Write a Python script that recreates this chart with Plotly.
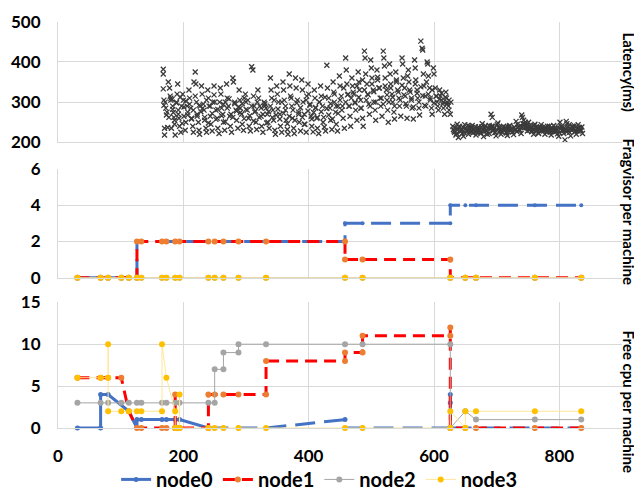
import plotly.graph_objects as go
from plotly.subplots import make_subplots

# ---------------- Latency scatter (top panel) ----------------
lat_x1 = [
    168, 168, 168, 169, 169, 170, 170, 172, 173, 175, 176,
    178, 179, 180, 181, 182, 183, 184, 185, 186, 187,
    189, 190, 191, 192, 193, 194, 196, 197,
    199, 200, 201, 203, 204, 206, 207,
    209, 210, 212, 213, 215, 216, 217,
    219, 220, 221, 222, 224, 225, 226, 227,
    229, 230, 232, 233, 234, 236, 237,
    239, 240, 241, 243, 244, 246, 247,
    249, 250, 252, 254, 255, 257,
    259, 260, 261, 263, 264, 266, 267,
    269, 270, 272, 274, 275, 277,
    279, 280, 282, 284, 285, 287,
    289, 290, 291, 293, 294, 296, 297,
    299, 300, 302, 304, 305, 307,
    309, 311, 312, 313, 314, 316, 317,
    319, 320, 322, 324, 325, 327,
    329, 330, 332, 334, 335, 337,
    339, 340, 341, 343, 344, 346, 347,
    349, 350, 352, 354, 355, 357,
    359, 360, 361, 363, 364, 366, 367,
    369, 370, 371, 373, 374, 376, 377,
    379, 380, 382, 384, 385, 387,
    389, 390, 391, 393, 394, 396, 397,
    399, 400, 402, 404, 405, 407,
    409, 410, 411, 413, 414, 416, 417,
    419, 420, 422, 424, 425, 427,
    429, 430, 432, 434, 435, 437,
    439, 440, 441, 443, 444, 446, 447,
    449, 450, 452, 454, 455, 457,
    459, 460, 461, 463, 464, 466, 467,
    469, 470, 472, 474, 475, 477,
    479, 480, 481, 483, 484, 486, 487,
    489, 490, 491, 493, 494, 496, 497,
    499, 500, 501, 503, 504, 506, 507,
    509, 510, 512, 514, 515, 517,
    519, 520, 521, 522, 524, 525, 526, 527,
    529, 530, 531, 533, 534, 536, 537,
    539, 540, 542, 544, 545, 547,
    549, 550, 551, 553, 554, 556, 557,
    559, 560, 562, 564, 565, 567,
    569, 570, 571, 573, 574, 576, 577,
    579, 581, 582, 583, 584, 586, 587,
    589, 590, 591, 593, 594, 596, 597,
    599, 600, 602, 604, 605, 607,
    609, 610, 612, 614, 615, 617,
    619, 620, 621, 623, 624, 626, 627,
    630, 631, 633, 635, 637, 639,
    641, 643, 645, 647, 649,
    651, 653, 655, 657, 659,
    661, 663, 665, 667, 669,
    671, 673, 675, 677, 679,
    681, 683, 685, 688,
    691, 693, 694, 695, 697, 699,
    701, 703, 705, 707, 709,
    711, 713, 715, 717, 719,
    721, 723, 725, 727, 729,
    731, 733, 735, 737, 739,
    740, 741, 743, 745, 747, 749,
    751, 753, 755, 757, 759,
    761, 763, 765, 767, 769,
    771, 773, 775, 777, 779,
    781, 783, 785, 787, 789,
    791, 793, 795, 797, 799,
    801, 803, 805, 807, 809,
    811, 812, 814, 816, 818,
    821, 823, 825, 827,
    830, 832, 834, 837,
]
lat_y1 = [
    382, 370, 333, 305, 292, 235, 218, 285, 268, 237, 350,
    335, 315, 305, 235, 307, 290, 274, 262, 245, 218,
    300, 320, 345, 280, 260, 240, 225, 290,
    320, 305, 265, 230, 250, 290, 275,
    330, 310, 285, 260, 240, 225, 350,
    375, 345, 300, 270, 250, 230, 220, 290,
    340, 320, 295, 280, 255, 235, 225,
    330, 310, 290, 265, 245, 228, 300,
    340, 300, 280, 260, 235, 222,
    335, 320, 285, 270, 250, 230, 300,
    345, 310, 290, 265, 240, 225,
    360, 350, 300, 280, 255, 235,
    330, 305, 285, 270, 245, 230, 310,
    320, 300, 280, 260, 240, 228,
    388, 380, 315, 290, 275, 250, 232,
    330, 310, 290, 265, 240, 225,
    300, 290, 285, 270, 250, 235,
    360, 330, 310, 280, 255, 230, 220,
    340, 320, 300, 270, 240, 225,
    350, 330, 305, 280, 255, 232, 220,
    370, 340, 315, 290, 260, 235, 222,
    360, 335, 305, 275, 250, 228,
    355, 330, 300, 270, 245, 225, 315,
    345, 320, 295, 265, 240, 226,
    330, 310, 285, 260, 235, 222, 300,
    340, 315, 290, 262, 238, 228,
    392, 335, 310, 285, 255, 232,
    350, 325, 300, 275, 245, 228, 290,
    365, 340, 315, 290, 260, 235,
    410, 380, 345, 320, 290, 265, 240,
    360, 340, 320, 300, 280, 255,
    375, 350, 330, 305, 285, 260, 240,
    427, 410, 370, 345, 320, 295, 270,
    405, 385, 360, 330, 300, 280, 255,
    380, 355, 335, 310, 290, 265,
    427, 410, 390, 360, 330, 305, 280, 250,
    395, 370, 345, 320, 300, 275, 258,
    375, 355, 330, 310, 290, 265,
    410, 395, 360, 335, 315, 290, 260,
    380, 350, 325, 305, 285, 258,
    405, 385, 355, 330, 310, 285, 268,
    452, 434, 430, 370, 340, 315, 290,
    400, 395, 365, 335, 310, 285, 270,
    385, 370, 335, 315, 300, 280,
    330, 315, 305, 295, 285, 270,
    325, 310, 300, 290, 280, 270, 300,
    240, 232, 225, 218, 245, 212,
    238, 230, 222, 215, 244,
    235, 228, 220, 240, 226,
    242, 234, 226, 218, 230,
    238, 230, 222, 246, 214,
    236, 228, 220, 242,
    270, 262, 240, 232, 224, 216,
    244, 236, 228, 220, 232,
    240, 232, 225, 217, 236,
    242, 234, 226, 219, 230,
    252, 245, 238, 230, 222,
    268, 262, 255, 245, 236, 228,
    250, 242, 235, 228, 220,
    245, 238, 230, 222, 234,
    244, 236, 228, 220, 232,
    240, 233, 226, 218, 230,
    242, 235, 228, 221, 215,
    250, 238, 230, 222, 206,
    252, 246, 232, 225, 216,
    240, 233, 226, 220,
    244, 236, 228, 222,
]
lat_x2 = [
    171, 174, 177, 180, 183, 186, 189, 192, 195, 198, 201, 204, 207, 210, 213, 216, 219, 222, 225, 228,
    231, 234, 237, 240, 243, 246, 249, 252, 255, 258, 261, 264, 267, 270, 273, 276, 279, 282, 285, 288,
    291, 294, 297, 300, 303, 306, 309, 312, 315, 318, 321, 324, 327, 330, 333, 336, 339, 342, 345, 348,
    351, 354, 357, 360, 363, 366, 369, 372, 375, 378, 381, 384, 387, 390, 393, 396, 399, 402, 405, 408,
    411, 414, 417, 420, 423, 426, 429, 432, 435, 438, 441, 444, 447, 450, 453, 456, 459, 462, 465, 468,
    471, 474, 477, 480, 483, 486, 489, 492, 495, 498, 501, 504, 507, 510, 513, 516, 519, 522, 525, 528,
    531, 534, 537, 540, 543, 546, 549, 552, 555, 558, 561, 564, 567, 570, 573, 576, 579, 582, 585, 588,
    591, 594, 597, 600, 603, 606, 609, 612, 615, 618, 621, 624,
]
lat_y2 = [
    300, 275, 262, 310, 282, 255, 298, 270, 312, 247, 288, 303, 268, 295, 258, 280, 315, 265, 292, 276,
    285, 262, 305, 248, 290, 272, 318, 257, 282, 300, 266, 294, 251, 285, 308, 270, 262, 296, 278, 288,
    274, 296, 259, 282, 305, 266, 290, 253, 278, 300, 262, 285, 270, 296, 248, 276, 290, 262, 305, 268,
    283, 258, 300, 272, 290, 246, 265, 310, 280, 255, 298, 270, 286, 262, 245, 305, 278, 292, 258, 274,
    287, 262, 300, 276, 250, 312, 284, 268, 296, 258, 320, 290, 272, 305, 280, 335, 300, 318, 290, 310,
    325, 298, 340, 312, 285, 355, 330, 305, 318, 290, 345, 326, 300, 362, 335, 310, 295, 340, 318, 300,
    335, 312, 290, 350, 325, 305, 342, 318, 296, 365, 330, 310, 288, 345, 322, 300, 338, 316, 292, 350,
    320, 305, 330, 298, 315, 290, 308, 322, 300, 312, 295, 305,
]
lat_x3 = [
    632, 634, 636, 638, 640, 642, 644, 646, 648, 650, 652, 654, 656, 658, 660, 662, 664, 666, 668, 670,
    672, 674, 676, 678, 680, 682, 684, 686, 688, 690, 692, 694, 696, 698, 700, 702, 704, 706, 708, 710,
    712, 714, 716, 718, 720, 722, 724, 726, 728, 730, 732, 734, 736, 738, 740, 742, 744, 746, 748, 750,
    752, 754, 756, 758, 760, 762, 764, 766, 768, 770, 772, 774, 776, 778, 780, 782, 784, 786, 788, 790,
    792, 794, 796, 798, 800, 802, 804, 806, 808, 810, 812, 814, 816, 818, 820, 822, 824, 826, 828, 830,
    832, 834, 836,
]
lat_y3 = [
    228, 236, 222, 232, 240, 226, 230, 238, 224, 234, 229, 242, 226, 233, 237, 223, 231, 239, 227, 235,
    230, 224, 238, 232, 227, 241, 229, 235, 222, 233, 240, 228, 236, 225, 231, 248, 238, 230, 226, 236,
    229, 237, 223, 232, 240, 228, 234, 226, 238, 231, 227, 236, 232, 242, 238, 246, 236, 250, 242, 235,
    230, 238, 226, 234, 241, 229, 236, 224, 232, 239, 228, 235, 230, 237, 225, 233, 240, 229, 236, 227,
    234, 226, 231, 238, 224, 233, 240, 229, 236, 231, 226, 238, 244, 233, 229, 236, 241, 230, 235, 228,
    237, 232, 238,
]

# ---------------- Fragvisor per machine (middle panel) ----------------
frag0_x = [31, 68, 80, 101, 113, 126, 126, 133, 166, 173, 187, 194, 240, 250, 264, 288, 332, 458, 458, 486, 626, 626, 650, 667, 761, 835]
frag0_y = [0, 0, 0, 0, 0, 0, 2, 2, 2, 2, 2, 2, 2, 2, 2, 2, 2, 2, 3, 3, 3, 4, 4, 4, 4, 4]
frag1_x = [31, 68, 80, 101, 113, 126, 126, 133, 166, 173, 187, 194, 240, 250, 264, 288, 332, 458, 458, 486, 626, 626, 650, 667, 761, 835]
frag1_y = [0, 0, 0, 0, 0, 0, 2, 2, 2, 2, 2, 2, 2, 2, 2, 2, 2, 2, 1, 1, 1, 0, 0, 0, 0, 0]
frag2_x = [31, 68, 80, 101, 113, 126, 133, 166, 173, 187, 194, 240, 250, 264, 288, 332, 458, 486, 626, 650, 667, 761, 835]
frag2_y = [0, 0, 0, 0, 0, 0, 0, 0, 0, 0, 0, 0, 0, 0, 0, 0, 0, 0, 0, 0, 0, 0, 0]
frag3_x = [31, 68, 80, 101, 113, 126, 133, 166, 173, 187, 194, 240, 250, 264, 288, 332, 458, 486, 626, 650, 667, 761, 835]
frag3_y = [0, 0, 0, 0, 0, 0, 0, 0, 0, 0, 0, 0, 0, 0, 0, 0, 0, 0, 0, 0, 0, 0, 0]

# ---------------- Free cpu per machine (bottom panel) ----------------
cpu0_x = [31, 68, 68, 80, 113, 126, 126, 133, 166, 173, 187, 194, 240, 250, 264, 288, 332, 458, 458, 486, 626, 626, 626, 626, 650, 667, 761, 835]
cpu0_y = [0, 0, 4, 4, 2, 0, 1, 1, 1, 1, 1, 1, 0, 0, 0, 0, 0, 1, 0, 0, 0, 4, 3, 0, 0, 0, 0, 0]
cpu1_x = [31, 68, 80, 101, 113, 126, 133, 166, 173, 187, 187, 187, 194, 240, 240, 250, 264, 288, 332, 332, 458, 458, 486, 486, 626, 626, 626, 650, 667, 761, 835]
cpu1_y = [6, 6, 6, 6, 2, 0, 0, 0, 0, 0, 4, 0, 0, 0, 4, 4, 4, 4, 4, 8, 8, 9, 9, 11, 11, 12, 0, 0, 0, 0, 0]
cpu2_x = [31, 68, 80, 101, 113, 126, 133, 166, 173, 187, 194, 240, 250, 250, 264, 264, 288, 288, 332, 458, 486, 626, 626, 650, 667, 761, 835]
cpu2_y = [3, 3, 3, 3, 3, 3, 3, 3, 3, 3, 3, 3, 3, 7, 7, 9, 9, 10, 10, 10, 10, 10, 0, 2, 1, 1, 1]
cpu3_x = [31, 68, 80, 80, 80, 101, 113, 126, 133, 166, 166, 173, 187, 187, 194, 194, 194, 240, 250, 264, 288, 332, 458, 486, 626, 626, 650, 650, 667, 761, 835]
cpu3_y = [6, 6, 6, 10, 2, 2, 2, 2, 2, 2, 10, 6, 2, 0, 0, 4, 0, 0, 0, 0, 0, 0, 0, 0, 0, 2, 0, 2, 2, 2, 2]

node_names = ["node0", "node1", "node2", "node3"]

# ---------------- styling ----------------
FONT = "Lato"
BLUE = "#4472C4"
RED = "#FF0000"
ORANGE = "#ED7D31"
GRAY = "#A5A5A5"
GOLD = "#FFC000"
PALE = "#FFE699"
GRID = "#D9D9D9"

styles = [
    dict(line=dict(color=BLUE, width=3), marker=dict(color=BLUE, size=5)),
    dict(line=dict(color=RED, width=3, dash="12px,7px"), marker=dict(color=ORANGE, size=6)),
    dict(line=dict(color=GRAY, width=1), marker=dict(color=GRAY, size=6)),
    dict(line=dict(color=PALE, width=1), marker=dict(color=GOLD, size=6)),
]

fig = make_subplots(rows=3, cols=1, shared_xaxes=True)

# bottom panel (legend entries come from here)
cpu_series = [(cpu0_x, cpu0_y), (cpu1_x, cpu1_y), (cpu2_x, cpu2_y), (cpu3_x, cpu3_y)]
split = 12  # node0: solid early part, long-dash afterwards
for i, (xs, ys) in enumerate(cpu_series):
    if i == 0:
        fig.add_trace(go.Scatter(x=xs[:split + 1], y=ys[:split + 1], mode="lines+markers",
                                 name=node_names[i], legendgroup=node_names[i],
                                 cliponaxis=False, **styles[i]), row=3, col=1)
        fig.add_trace(go.Scatter(x=xs[split:], y=ys[split:], mode="lines+markers",
                                 name=node_names[i], legendgroup=node_names[i], showlegend=False,
                                 cliponaxis=False,
                                 line=dict(color=BLUE, width=3, dash="20px,9px"),
                                 marker=dict(color=BLUE, size=5)), row=3, col=1)
    else:
        fig.add_trace(go.Scatter(x=xs, y=ys, mode="lines+markers", name=node_names[i],
                                 legendgroup=node_names[i], cliponaxis=False, **styles[i]),
                      row=3, col=1)

# middle panel
frag_series = [(frag0_x, frag0_y), (frag1_x, frag1_y), (frag2_x, frag2_y), (frag3_x, frag3_y)]
for i, (xs, ys) in enumerate(frag_series):
    st = dict(styles[i])
    if i == 0:
        st = dict(line=dict(color=BLUE, width=3, dash="20px,9px"), marker=dict(color=BLUE, size=4))
    fig.add_trace(go.Scatter(x=xs, y=ys, mode="lines+markers", name=node_names[i],
                             legendgroup=node_names[i], showlegend=False, cliponaxis=False, **st),
                  row=2, col=1)

# top panel
fig.add_trace(go.Scatter(x=lat_x1 + lat_x2 + lat_x3, y=lat_y1 + lat_y2 + lat_y3,
                         mode="markers", showlegend=False,
                         marker=dict(symbol="x-thin-open", size=5, color="#3a3a3a",
                                     line=dict(width=1.3, color="#3a3a3a"))),
              row=1, col=1)

tickfont = dict(family=FONT, size=17, color="black", weight="bold")

axis_common = dict(showgrid=True, gridcolor=GRID, gridwidth=1, zeroline=False,
                   showline=True, linecolor=GRID, linewidth=1, tickfont=tickfont,
                   automargin=False, ticks="outside", tickcolor="rgba(0,0,0,0)")

for r in (1, 2, 3):
    fig.update_xaxes(range=[0, 900], dtick=200, tick0=0, ticklen=13,
                     **axis_common, row=r, col=1)

fig.update_yaxes(range=[200, 500], dtick=100, domain=[0.702, 0.998], ticklen=13,
                 **axis_common, row=1, col=1)
fig.update_yaxes(range=[0, 6], dtick=2, domain=[0.3693, 0.6364], ticklen=13,
                 **axis_common, row=2, col=1)
fig.update_yaxes(range=[0, 15], dtick=5, domain=[0.0, 0.3088], ticklen=13,
                 **axis_common, row=3, col=1)

titles = [("Latency(ms)", 0.875), ("Fragvisor per machine", 0.531), ("Free cpu per machine", 0.064)]
for txt, yy in titles:
    fig.add_annotation(text=txt, xref="paper", yref="paper", x=1.013, y=yy,
                       xanchor="center", yanchor="middle", textangle=90, showarrow=False,
                       font=dict(family=FONT, size=15, color="black", weight="bold"))

# the page body adds an 8px offset, so the figure is 8px smaller than the window
fig.update_layout(
    width=634, height=483,
    margin=dict(l=50, r=20, t=13, b=63, autoexpand=False),
    paper_bgcolor="white", plot_bgcolor="white",
    font=dict(family=FONT, color="black"),
    showlegend=True,
    legend=dict(orientation="h", xref="paper", x=0.103, xanchor="left",
                yref="container", y=0.024, yanchor="middle",
                font=dict(family=FONT, size=20, color="black", weight="bold"),
                itemwidth=30, tracegroupgap=0, bgcolor="rgba(0,0,0,0)"),
)

fig.write_html("out.html")
